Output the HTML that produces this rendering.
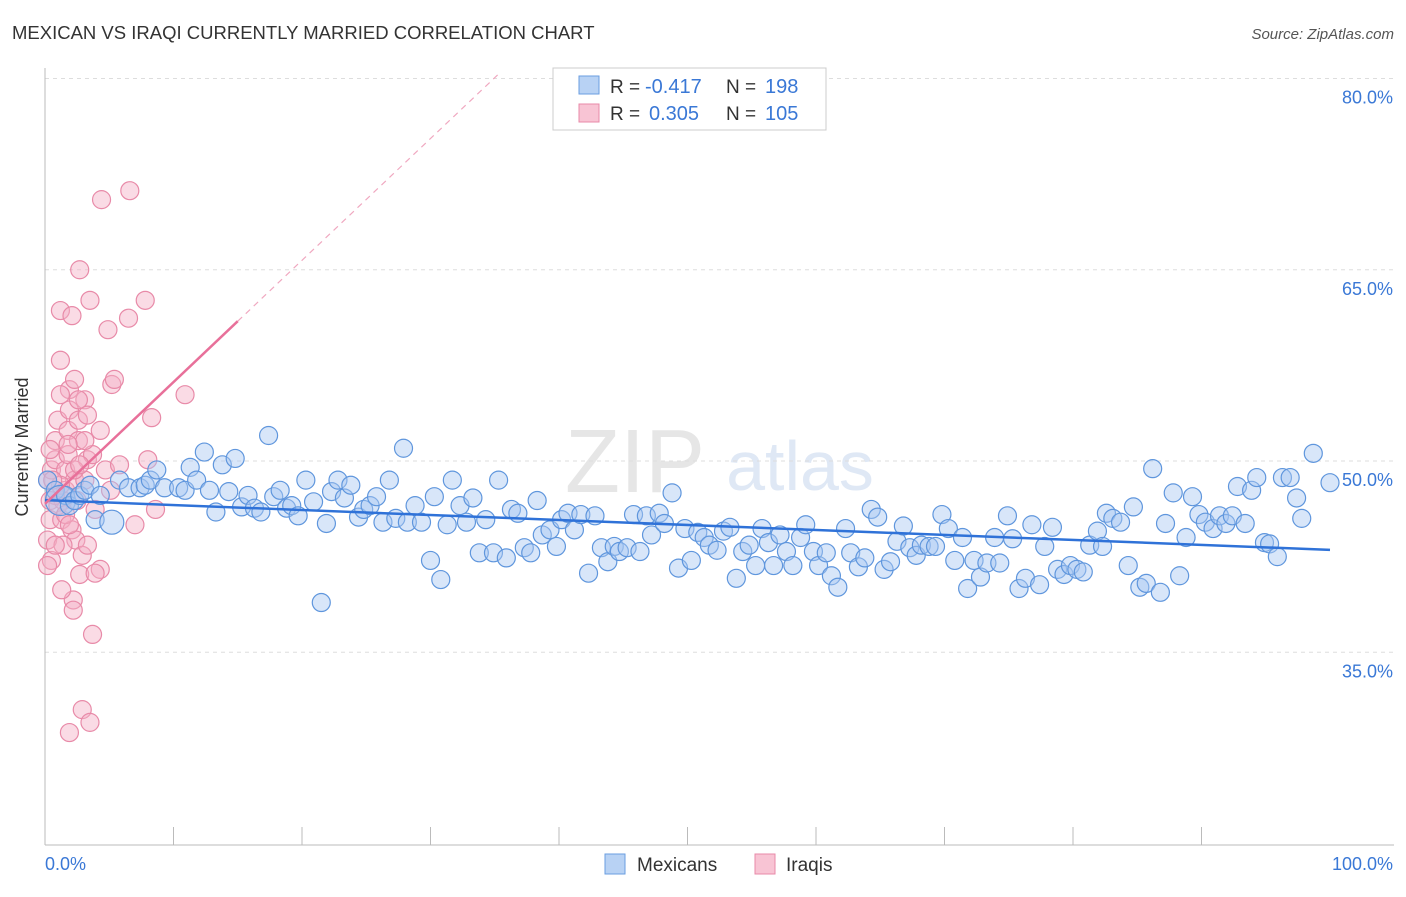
<!DOCTYPE html>
<html><head><meta charset="utf-8"><style>
body{margin:0;background:#fff;font-family:"Liberation Sans",sans-serif;}
svg text{font-family:"Liberation Sans",sans-serif;}
</style></head><body>
<svg id="chart" width="1406" height="892" xmlns="http://www.w3.org/2000/svg">
<text x="12" y="39" font-size="18.5" fill="#333">MEXICAN VS IRAQI CURRENTLY MARRIED CORRELATION CHART</text>
<text x="1394" y="39" font-size="15" fill="#555" font-style="italic" text-anchor="end">Source: ZipAtlas.com</text>
<text x="36" y="455" font-size="18" fill="#333" text-anchor="middle" transform="rotate(-90 28 455)">Currently Married</text>
<g><text x="635" y="492" font-size="90" fill="#e6e6e6" font-family="Liberation Serif" text-anchor="middle">ZIP</text><text x="800" y="490" font-size="70" fill="#dfe8f5" text-anchor="middle">atlas</text></g>
<g id="grid"></g><g id="axes"></g><g id="pts"></g><g id="trend"></g>
<g>
<rect x="553" y="68" width="273" height="62" fill="#fff" stroke="#ccc"/>
<rect x="579" y="76" width="20" height="18" fill="#b8d2f4" stroke="#6a9ee0"/>
<rect x="579" y="104" width="20" height="18" fill="#f8c4d4" stroke="#e88aa8"/>
<text x="610" y="93" font-size="19" fill="#333">R =</text>
<text x="645" y="93" font-size="20" fill="#3a78d6">-0.417</text>
<text x="726" y="93" font-size="19" fill="#333">N =</text>
<text x="765" y="93" font-size="20" fill="#3a78d6">198</text>
<text x="610" y="120" font-size="19" fill="#333">R =</text>
<text x="649" y="120" font-size="20" fill="#3a78d6">0.305</text>
<text x="726" y="120" font-size="19" fill="#333">N =</text>
<text x="765" y="120" font-size="20" fill="#3a78d6">105</text>
</g>
<g>
<rect x="605" y="854" width="20" height="20" fill="#b8d2f4" stroke="#6a9ee0"/><text x="637" y="871" font-size="19" fill="#333">Mexicans</text>
<rect x="755" y="854" width="20" height="20" fill="#f8c4d4" stroke="#e88aa8"/><text x="786" y="871" font-size="19" fill="#333">Iraqis</text>
</g>
</svg>
<script>
const yTicks=[35,50,65,80];
const yTickLabels=["35.0%","50.0%","65.0%","80.0%"];
const xTickLabels=["0.0%","100.0%"];
const mexX=[0.2,0.8,1.2,1.6,1.9,2.3,2.7,3.1,3.5,3.9,5.2,4.3,5.8,6.5,7.4,7.8,8.2,8.7,9.3,10.4,10.9,11.3,11.8,12.4,12.8,13.3,13.8,14.3,14.8,15.3,15.8,16.3,16.8,17.4,17.8,18.3,18.8,19.2,19.7,20.3,20.9,21.5,21.9,22.3,22.8,23.3,23.8,24.4,24.8,25.3,25.8,26.3,26.8,27.3,27.9,28.2,28.8,29.3,30.0,30.3,30.8,31.3,31.7,32.3,32.8,33.3,33.8,34.3,34.9,35.3,35.9,36.3,36.8,37.3,37.8,38.3,38.7,39.3,39.8,40.2,40.7,41.2,41.7,42.3,42.8,43.3,43.8,44.3,44.7,45.3,45.8,46.3,46.8,47.2,47.8,48.2,48.8,49.3,49.8,50.3,50.8,51.3,51.7,52.3,52.8,53.3,53.8,54.3,54.8,55.3,55.8,56.3,56.7,57.2,57.7,58.2,58.8,59.2,59.8,60.2,60.8,61.2,61.7,62.3,62.7,63.3,63.8,64.3,64.8,65.3,65.8,66.3,66.8,67.3,67.8,68.2,68.8,69.3,69.8,70.3,70.8,71.4,71.8,72.3,72.8,73.3,73.9,74.3,74.9,75.3,75.8,76.3,76.8,77.4,77.8,78.4,78.8,79.3,79.8,80.3,80.8,81.3,81.9,82.3,82.6,83.1,83.7,84.3,84.7,85.2,85.7,86.2,86.8,87.2,87.8,88.3,88.8,89.3,89.8,90.3,90.9,91.4,91.9,92.4,92.8,93.4,93.9,94.3,94.9,95.3,95.9,96.3,96.9,97.4,97.8,98.7,100];
const mexY=[48.5,47.7,46.9,47.3,46.5,46.9,47.3,47.7,48.1,45.4,45.2,47.3,48.5,47.9,47.9,48.1,48.5,49.3,47.9,47.9,47.7,49.5,48.5,50.7,47.7,46.0,49.7,47.6,50.2,46.4,47.3,46.3,46.0,52.0,47.2,47.7,46.3,46.5,45.7,48.5,46.8,38.9,45.1,47.6,48.5,47.1,48.1,45.6,46.2,46.5,47.2,45.2,48.5,45.5,51.0,45.2,46.5,45.2,42.2,47.2,40.7,45.0,48.5,46.5,45.2,47.1,42.8,45.4,42.8,48.5,42.4,46.2,45.9,43.2,42.8,46.9,44.2,44.6,43.3,45.4,45.9,44.6,45.8,41.2,45.7,43.2,42.1,43.3,42.9,43.2,45.8,42.9,45.7,44.2,45.9,45.1,47.5,41.6,44.7,42.2,44.4,44.0,43.4,43.0,44.5,44.8,40.8,42.9,43.4,41.8,44.7,43.6,41.8,44.2,42.9,41.8,44.0,45.0,42.9,41.8,42.8,41.0,40.1,44.7,42.8,41.7,42.4,46.2,45.6,41.5,42.1,43.7,44.9,43.2,42.6,43.4,43.3,43.3,45.8,44.7,42.2,44.0,40.0,42.2,40.9,42.0,44.0,42.0,45.7,43.9,40.0,40.8,45.0,40.3,43.3,44.8,41.5,41.1,41.8,41.5,41.3,43.4,44.5,43.3,45.9,45.5,45.2,41.8,46.4,40.1,40.4,49.4,39.7,45.1,47.5,41.0,44.0,47.2,45.8,45.2,44.7,45.7,45.1,45.7,48.0,45.1,47.7,48.7,43.6,43.5,42.5,48.7,48.7,47.1,45.5,50.6,48.3];
const iraX=[0.2,0.4,0.5,0.2,0.4,0.5,0.8,0.8,1.0,1.2,1.2,1.3,1.4,1.6,1.6,1.8,1.8,1.9,1.9,2.1,2.1,2.2,2.2,2.3,2.3,2.4,2.5,2.6,2.6,2.7,2.7,2.9,2.9,3.1,3.1,3.3,3.3,3.5,3.5,3.7,3.7,3.9,4.3,4.3,4.4,4.7,4.9,5.1,5.2,5.4,5.8,6.5,6.6,7.0,7.8,8.0,8.3,8.6,10.9,1.9,0.2,0.8,1.2,1.0,1.6,1.9,1.4,0.8,0.4,0.6,2.3,2.7,3.1,1.8,3.9,1.3,2.6,3.3,1.2];
const iraY=[48.5,45.4,42.2,43.8,46.9,49.3,50.1,51.6,53.2,57.9,61.8,45.4,46.9,47.7,49.3,50.5,52.4,54.0,55.6,61.4,44.6,39.1,38.3,56.4,48.5,43.8,46.9,53.2,51.6,65.0,41.1,42.6,30.5,54.8,48.5,50.1,43.4,62.6,29.5,50.5,36.4,46.2,41.5,52.4,70.5,49.3,60.3,47.7,56.0,56.4,49.7,61.2,71.2,45.0,62.6,50.1,53.4,46.2,55.2,28.7,41.8,47.3,48.1,46.5,45.8,45.0,43.4,43.4,50.9,48.5,49.3,49.7,51.6,51.3,41.2,39.9,54.8,53.6,55.2];
const NS='http://www.w3.org/2000/svg';
const X0=45,X1=1330,Y50=461,PPY=12.75,YB=845;
function xs(v){return X0+(X1-X0)*v/100;}
function ys(v){return Y50-(v-50)*PPY;}
function mk(t,a,p){const e=document.createElementNS(NS,t);for(const k in a)e.setAttribute(k,a[k]);p.appendChild(e);return e;}
const grid=document.getElementById('grid'),axes=document.getElementById('axes'),pts=document.getElementById('pts'),trend=document.getElementById('trend');
yTicks.forEach((t,i)=>{
 const l=mk('line',{x1:X0,x2:1394,y1:ys(t),y2:ys(t),stroke:'#ddd','stroke-dasharray':'4,4'},grid);
 
 
 const tx=mk('text',{x:1393,y:ys(t)+25,'font-size':18,fill:'#3a78d6','text-anchor':'end'},axes);
 tx.textContent=yTickLabels[i];
 
 
});
const xa=mk('line',{x1:X0,x2:1394,y1:YB,y2:YB,stroke:'#bbb'},axes);


const ya=mk('line',{x1:X0,x2:X0,y1:68,y2:YB,stroke:'#bbb'},axes);


for(let i=0;i<=10;i++){
 const tk=mk('line',{x1:xs(i*10),x2:xs(i*10),y1:YB,y2:YB-(i%10==0?0:18),stroke:'#bbb'},axes);
 
 
}
[[0,'start',45],[100,'end',1393]].forEach((d,i)=>{
 const tx=mk('text',{x:d[2],y:870,'font-size':18,fill:'#3a78d6','text-anchor':d[1]},axes);
 tx.textContent=xTickLabels[i];
 
 
});
function draw(X,Y,fill,stroke,name){
 X.forEach((x,i)=>{
  const r=(name==='mexican-point'&&(i===2||i===10))?(i===2?15:12):9;
  const c=mk('circle',{cx:xs(x),cy:ys(Y[i]),r:r,fill:fill,'fill-opacity':0.45,stroke:stroke,'stroke-width':1.2},pts);
  
  
 });
}
draw(iraX,iraY,'#f4b0c6','#e88aa8','iraqi-point');
draw(mexX,mexY,'#a8c8f2','#5f96dd','mexican-point');
function fit(X,Y){const n=X.length;let sx=0,sy=0,sxx=0,sxy=0;for(let i=0;i<n;i++){sx+=X[i];sy+=Y[i];sxx+=X[i]*X[i];sxy+=X[i]*Y[i];}const b=(n*sxy-sx*sy)/(n*sxx-sx*sx);return[(sy-b*sx)/n,b];}
const fm=fit(mexX,mexY);
const lm=mk('line',{x1:xs(0),y1:ys(fm[0]),x2:xs(100),y2:ys(fm[0]+fm[1]*100),stroke:'#2f72d8','stroke-width':2.5},trend);


const fi=fit(iraX,iraY);
const li=mk('line',{x1:xs(0),y1:ys(fi[0]),x2:xs(15),y2:ys(fi[0]+fi[1]*15),stroke:'#e8709a','stroke-width':2.5},trend);


const xe=Math.min(100,(80.5-fi[0])/fi[1]);
const ld=mk('line',{x1:xs(15),y1:ys(fi[0]+fi[1]*15),x2:xs(xe),y2:ys(fi[0]+fi[1]*xe),stroke:'#f0a8c0','stroke-width':1.2,'stroke-dasharray':'6,5'},trend);


</script>
</body></html>
